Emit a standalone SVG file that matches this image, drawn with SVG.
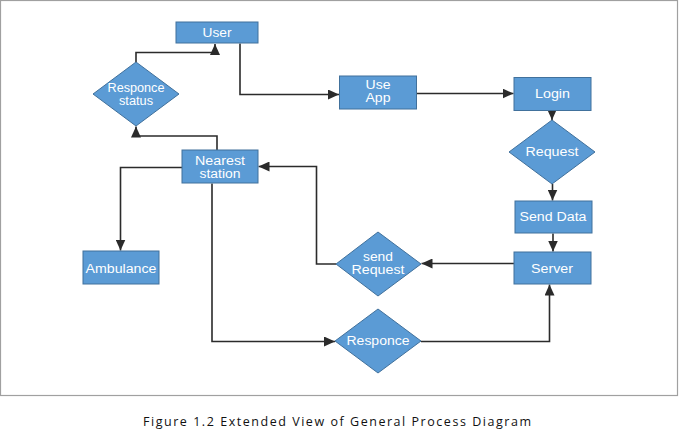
<svg xmlns="http://www.w3.org/2000/svg" width="679" height="429" viewBox="0 0 679 429">
<style>
.n{fill:#5b9bd5;stroke:#41719c;stroke-width:1}
.t{font-family:"Liberation Sans",Arial,sans-serif;font-size:12px;fill:#ffffff;text-anchor:middle}
.c{fill:none;stroke:#2b2b2b;stroke-width:1.6}
.cap{font-family:"Open Sans","Liberation Sans",sans-serif;font-size:12.5px;fill:#111}
</style>
<defs>
<marker id="a" markerUnits="userSpaceOnUse" markerWidth="11" markerHeight="10" refX="11" refY="5" orient="auto">
<path d="M0,0 L11,5 L0,10 z" fill="#2b2b2b"/>
</marker>
</defs>
<rect x="0" y="0" width="679" height="429" fill="#ffffff"/>
<rect x="0.5" y="0.5" width="677" height="395" fill="none" stroke="#a0a0a0" stroke-width="1.2"/>
<g id="connectors">
<path class="c" d="M136,62 V52.5 H215 V44" marker-end="url(#a)"/>
<path class="c" d="M240,43.5 V94.5 H339" marker-end="url(#a)"/>
<path class="c" d="M417,93.5 H513.5" marker-end="url(#a)"/>
<path class="c" d="M552,111 V120" marker-end="url(#a)"/>
<path class="c" d="M552.5,184 V200.5" marker-end="url(#a)"/>
<path class="c" d="M553,233.5 V251.5" marker-end="url(#a)"/>
<path class="c" d="M514,263.5 H421.5" marker-end="url(#a)"/>
<path class="c" d="M336,264 H316.5 V166.5 H258.5" marker-end="url(#a)"/>
<path class="c" d="M217,150 V136 H136 V126.5" marker-end="url(#a)"/>
<path class="c" d="M182,167.5 H120.5 V250.5" marker-end="url(#a)"/>
<path class="c" d="M212,183.5 V341.5 H335" marker-end="url(#a)"/>
<path class="c" d="M421,341.5 H549.5 V284.5" marker-end="url(#a)"/>
</g>
<g id="user"><rect class="n" x="176" y="22" width="82" height="21"/><text class="t" x="217" y="37" textLength="29" lengthAdjust="spacingAndGlyphs">User</text></g>
<g id="responce-status"><polygon class="n" points="136,62 179,94 136,126 93,94"/><text class="t" x="136" y="92" textLength="57" lengthAdjust="spacingAndGlyphs">Responce</text><text class="t" x="136" y="105" textLength="34" lengthAdjust="spacingAndGlyphs">status</text></g>
<g id="use-app"><rect class="n" x="339.5" y="76" width="77" height="33"/><text class="t" x="378" y="88.5" textLength="25" lengthAdjust="spacingAndGlyphs">Use</text><text class="t" x="378" y="101.5" textLength="25" lengthAdjust="spacingAndGlyphs">App</text></g>
<g id="login"><rect class="n" x="514" y="77.5" width="77" height="33"/><text class="t" x="552.5" y="97.5" textLength="35" lengthAdjust="spacingAndGlyphs">Login</text></g>
<g id="request"><polygon class="n" points="552,120 595,152 552,184 509,152"/><text class="t" x="552" y="155.5" textLength="53" lengthAdjust="spacingAndGlyphs">Request</text></g>
<g id="send-data"><rect class="n" x="515" y="201" width="77" height="32"/><text class="t" x="553" y="221" textLength="67" lengthAdjust="spacingAndGlyphs">Send Data</text></g>
<g id="server"><rect class="n" x="514" y="252" width="77" height="32"/><text class="t" x="552" y="272.5" textLength="42" lengthAdjust="spacingAndGlyphs">Server</text></g>
<g id="send-request"><polygon class="n" points="378,232 421,264 378,296 336,264"/><text class="t" x="378" y="260.5" textLength="30" lengthAdjust="spacingAndGlyphs">send</text><text class="t" x="378" y="273.5" textLength="53" lengthAdjust="spacingAndGlyphs">Request</text></g>
<g id="nearest-station"><rect class="n" x="182" y="150" width="76" height="33"/><text class="t" x="220" y="164.5" textLength="50" lengthAdjust="spacingAndGlyphs">Nearest</text><text class="t" x="220" y="177.5" textLength="41" lengthAdjust="spacingAndGlyphs">station</text></g>
<g id="ambulance"><rect class="n" x="83" y="251" width="76" height="33"/><text class="t" x="121" y="272.5" textLength="71" lengthAdjust="spacingAndGlyphs">Ambulance</text></g>
<g id="responce"><polygon class="n" points="378,309 421,341 378,373 335,341"/><text class="t" x="378" y="345" textLength="63" lengthAdjust="spacingAndGlyphs">Responce</text></g>
<text class="cap" x="143" y="425.5" textLength="388" lengthAdjust="spacing">Figure 1.2 Extended View of General Process Diagram</text>
</svg>
